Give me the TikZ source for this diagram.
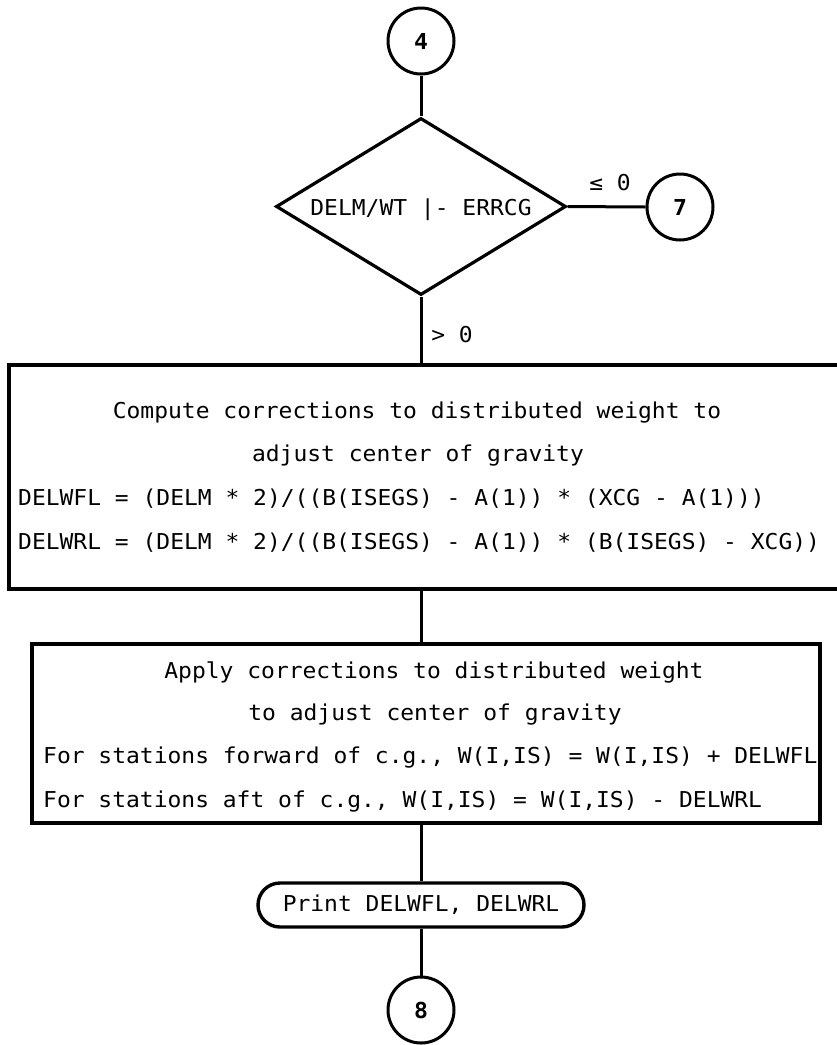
\documentclass[tikz,border=0pt]{standalone}
\usepackage{fontspec}
\newfontfamily\lp[FakeStretch=1.05]{DejaVu Sans Mono}
\usetikzlibrary{shapes.geometric}
\begin{document}
\begin{tikzpicture}[x=1pt,y=-1pt,
  conn/.style={line width=3pt},
  txt/.style={font=\lp\fontsize{21.87}{26}\selectfont,inner sep=0pt},
  con/.style={draw,circle,line width=3pt,minimum size=66pt,inner sep=0pt,font=\lp\bfseries\fontsize{22}{26}\selectfont},
  box/.style={draw,line width=4pt,inner sep=0pt},
  dec/.style={draw,diamond,line width=3.2pt,inner sep=0pt},
  term/.style={draw,line width=3.4pt,rounded corners=22pt,inner sep=0pt}]
\useasboundingbox (0,0) rectangle (837,1045);
\node[con] (c4) at (421,41) {4};
\node[dec,minimum width=290pt,minimum height=177pt] (d) at (421,206.5) {};
\node[txt] (dt) at (421,210) {DELM/WT  |- ERRCG};
\node[con] (c7) at (680,207) {7};
\node[txt] (l1) at (610,183) {≤ 0};
\node[txt] (l2) at (452,335) {> 0};
\node[box,minimum width=841pt,minimum height=224pt] (b1) at (429.5,477) {};
\node[txt] (b1a) at (417,413) {Compute corrections to distributed weight to};
\node[txt] (b1b) at (418,456) {adjust center of gravity};
\node[txt,anchor=west] (b1c) at (18,499) {DELWFL = (DELM * 2)/((B(ISEGS) - A(1)) * (XCG - A(1)))};
\node[txt,anchor=west] (b1d) at (18,543) {DELWRL = (DELM * 2)/((B(ISEGS) - A(1)) * (B(ISEGS) - XCG))};
\node[box,minimum width=788pt,minimum height=179pt] (b2) at (426,733.5) {};
\node[txt] (b2a) at (434,672) {Apply corrections to distributed weight};
\node[txt] (b2b) at (435,715) {to adjust center of gravity};
\node[txt,anchor=west] (b2c) at (43,758) {For stations forward of c.g., W(I,IS) = W(I,IS) + DELWFL};
\node[txt,anchor=west] (b2d) at (43,802) {For stations aft of c.g., W(I,IS) = W(I,IS) - DELWRL};
\node[term,minimum width=326pt,minimum height=44pt,font=\lp\fontsize{21.87}{26}\selectfont] (t) at (421,905) {Print DELWFL, DELWRL};
\node[con] (c8) at (421,1010) {8};
\draw[conn] (c4.south) -- (d.north);
\draw[conn] (d.east) -- (c7.west);
\draw[conn] (d.south) -- (d.south |- b1.north);
\draw[conn] (d.south |- b1.south) -- (d.south |- b2.north);
\draw[conn] (d.south |- b2.south) -- (t.north);
\draw[conn] (t.south) -- (c8.north);
\end{tikzpicture}
\end{document}
